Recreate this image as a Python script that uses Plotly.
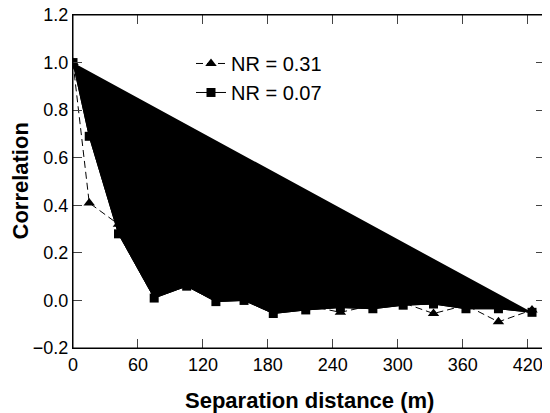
import plotly.graph_objects as go

# Separation distances (m)
dist = [0, 15, 42, 75, 105, 132, 158, 185, 215, 247, 277, 305, 333, 363, 393, 424]

# NR = 0.31 (triangles, dashed)
corr_031 = [1.0, 0.41, 0.32, 0.08, 0.10, 0.02, 0.02, -0.03, -0.02, -0.05,
            -0.02, -0.01, -0.055, -0.02, -0.09, -0.04]

# NR = 0.07 (squares, solid, filled polygon)
corr_007 = [1.0, 0.69, 0.28, 0.01, 0.06, -0.005, 0.0, -0.055, -0.04, -0.03,
            -0.035, -0.02, -0.015, -0.035, -0.035, -0.05]

name_031 = "NR = 0.31"
name_007 = "NR = 0.07"

xticks = [0, 60, 120, 180, 240, 300, 360, 420]
yticks = [-0.2, 0.0, 0.2, 0.4, 0.6, 0.8, 1.0, 1.2]

x_title = "Separation distance (m)"
y_title = "Correlation"

FONT = "Arial, Liberation Sans, sans-serif"

fig = go.Figure()

fig.add_trace(go.Scatter(
    x=dist, y=corr_031, name=name_031, mode="lines+markers",
    line=dict(color="black", width=1, dash="7px,4px"),
    marker=dict(symbol="triangle-up", size=10, color="black"),
))

# filled polygon (closing path from last point back to the first)
fig.add_trace(go.Scatter(
    x=dist, y=corr_007, mode="lines", fill="toself", fillcolor="black",
    line=dict(color="black", width=1), showlegend=False, hoverinfo="skip",
))

fig.add_trace(go.Scatter(
    x=dist, y=corr_007, name=name_007, mode="lines+markers",
    line=dict(color="black", width=1),
    marker=dict(symbol="square", size=9, color="black"),
))

fig.update_layout(
    width=542, height=405,
    margin=dict(l=65, r=5, t=7, b=65),
    paper_bgcolor="white", plot_bgcolor="white",
    font=dict(family=FONT, size=18, color="black"),
    showlegend=True,
    legend=dict(x=0.25, y=0.913, xanchor="left", yanchor="top",
                bgcolor="rgba(0,0,0,0)", font=dict(size=20),
                traceorder="normal", tracegroupgap=0),
    xaxis=dict(range=[0, 436], tickvals=xticks, ticks="inside", ticklen=9,
               showline=True, linecolor="black", linewidth=1, mirror="ticks",
               showgrid=False, zeroline=False, automargin=False,
               ticklabeloverflow="allow"),
    yaxis=dict(range=[-0.2, 1.2], tickvals=yticks, tickformat=".1f", ticks="inside",
               ticklen=9, showline=True, linecolor="black", linewidth=1, mirror="ticks",
               showgrid=False, zeroline=False, automargin=False,
               ticklabeloverflow="allow"),
    shapes=[dict(type="rect", xref="paper", yref="paper", x0=0, y0=0, x1=1, y1=1,
                 line=dict(color="black", width=1), layer="above")],
    annotations=[
        dict(text="<b>" + x_title + "</b>", xref="paper", yref="paper", x=0.5, y=0,
             xanchor="center", yanchor="middle", yshift=-52, showarrow=False,
             font=dict(size=22)),
        dict(text="<b>" + y_title + "</b>", xref="paper", yref="paper", x=0, y=0.5,
             xanchor="center", yanchor="middle", xshift=-53, textangle=-90,
             showarrow=False, font=dict(size=22)),
    ],
)

fig.write_html("out.html")
